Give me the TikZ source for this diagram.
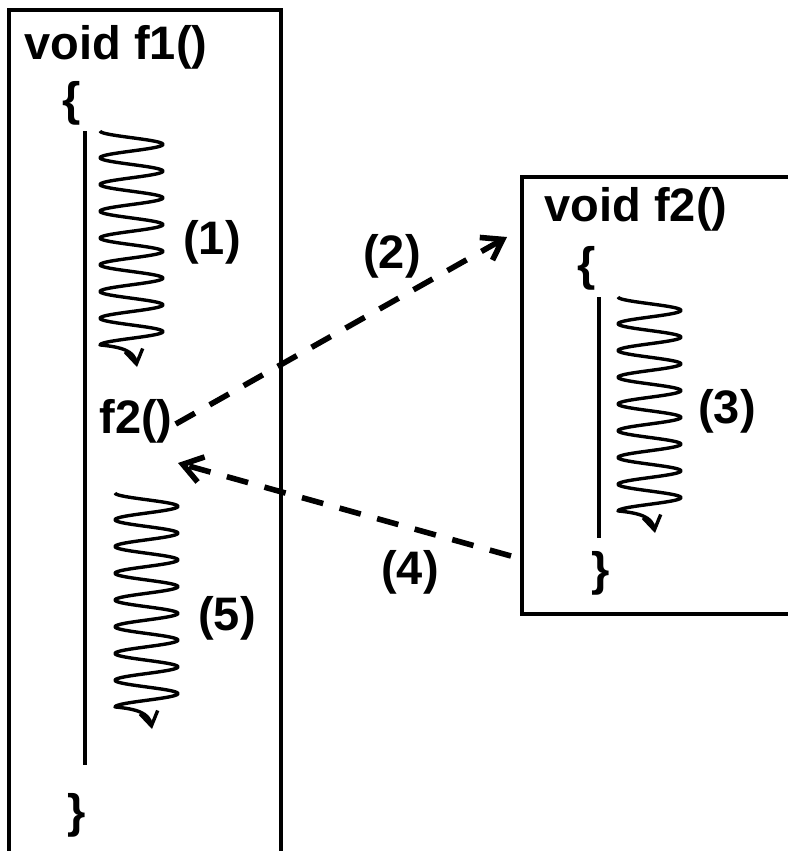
\documentclass[tikz,border=0pt]{standalone}
\usepackage{fontspec}
\setmainfont{Liberation Sans}
\usetikzlibrary{arrows.meta}

\begin{document}
\begin{tikzpicture}[x=1pt, y=-1pt,
    txt/.style={font=\bfseries\fontsize{47}{50}\selectfont, inner sep=0pt},
    frame/.style={draw, line width=3.2pt},
    codebar/.style={draw, line width=3.2pt},
    wig/.style={draw, line width=3.4pt, line join=round,
      -{Straight Barb[length=14pt,width=18pt]}},
    call/.style={draw, line width=5.6pt, dash pattern=on 22pt off 17pt,
      -{Straight Barb[length=19pt,width=26pt]}},
    wiggle/.pic={
      \path[wig] plot[domain=0:8, samples=241] ({31.5-31.5*cos(360*\x)}, {26.75*\x})
        .. controls (22,216) and (34,220) .. (37,236);
    }
  ]
  \useasboundingbox (0,0) rectangle (787,851);

  % caller
  \draw[frame] (9,860) -- (9,10) -- (281,10) -- (281,860);
  \node[txt] (f1head) at (116,47) {void f1()};
  \node[txt] (f1open) at (72,103) {\{};
  \node[txt] (f1close) at (77,815) {\}};
  \coordinate (f1top) at (85,131);
  \coordinate (f1bot) at (85,765);
  \path[codebar] (f1top) -- (f1bot);
  \pic at (100,131) {wiggle};
  \node[txt] (f2call) at (136,421) {f2()};
  \pic at (115,493) {wiggle};

  % callee
  \draw[frame] (795,177) -- (522,177) -- (522,614) -- (795,614);
  \node[txt] (f2head) at (636,209) {void f2()};
  \node[txt] (f2open) at (587,268) {\{};
  \node[txt] (f2close) at (601,573) {\}};
  \coordinate (f2top) at (599,297);
  \coordinate (f2bot) at (599,538);
  \path[codebar] (f2top) -- (f2bot);
  \pic at (618,297) {wiggle};

  % call and return
  \coordinate (callin) at (507,237);
  \coordinate (retout) at (511,556);
  \coordinate (retin) at (178,463);
  \path[call] ([xshift=3pt, yshift=-3pt]f2call.east) -- (callin);
  \path[call] (retout) -- (retin);

  \node[txt] (step1) at (212,242) {(1)};
  \node[txt] (step2) at (392,256) {(2)};
  \node[txt] (step3) at (727,411) {(3)};
  \node[txt] (step4) at (410,572) {(4)};
  \node[txt] (step5) at (227,618) {(5)};
\end{tikzpicture}
\end{document}
